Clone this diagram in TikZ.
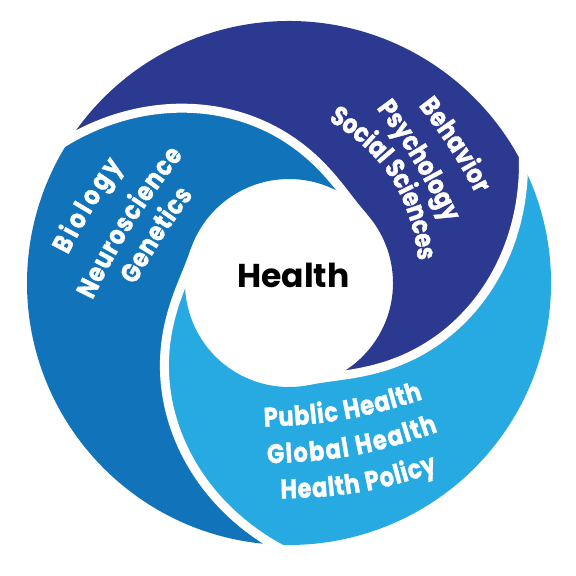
\documentclass[tikz,border=0pt]{standalone}
\usepackage{fontspec}
\setmainfont{Poppins}
\newfontfamily{\lblfam}{Poppins}[FakeStretch=0.84, FakeBold=1.2]
\usepackage{tikz}
\usetikzlibrary{decorations.text}
\definecolor{behavcolor}{RGB}{43, 57, 144}
\definecolor{biocolor}{RGB}{17, 116, 187}
\definecolor{publiccolor}{RGB}{39, 169, 225}
\newcommand{\lblfont}{\lblfam\fontsize{27}{30}\selectfont\bfseries}
\newcommand{\spiralr}[1]{99.5+162.5*(1-#1)^2*(1+0.5*#1)}

\begin{document}
\begin{tikzpicture}[
    x=1pt, y=1pt,
    gap/.style={draw=white, line width=9pt, line cap=round},
    curved/.style={decorate, decoration={text along path, text={|\lblfont|#1},
        text color=white, text align=fit to path, raise=-7pt}}
]
    % Background and frame
    \fill[white] (-289,-293) rectangle (287,283);
    \useasboundingbox (-289,-293) rectangle (287,283);

    % Swirl segments
    \foreach \a/\col in {26.5/behavcolor, 146.5/biocolor, 266.5/publiccolor}{
        \pgfmathsetmacro{\b}{\a+120}
        \pgfmathsetmacro{\ta}{\a-105}
        \pgfmathsetmacro{\tb}{\b-105}
        \fill[\col] (\b:262) arc[start angle=\b, end angle=\a, radius=262]
            -- plot[domain=0:1, samples=70, variable=\u] ({\a-105*\u}:{\spiralr{\u}})
            -- (\ta:104) arc[start angle=\ta, end angle=\tb, radius=104]
            -- plot[domain=1:0, samples=70, variable=\u] ({\b-105*\u}:{\spiralr{\u}})
            -- cycle;
    }

    % White gaps
    \foreach \a in {26.5, 146.5, 266.5}
        \draw[gap] plot[domain=-0.05:1, samples=70, variable=\u] ({\a-105*\u}:{\spiralr{\u}});

    % Labels
    \path[curved=Behavior] (135,181.5) to[bend left=5] (193,92);
    \path[curved=Psychology] (93,179) to[bend left=6] (162,64);
    \path[curved=Social Sciences] (43,168.5) to[bend left=26] (136,23.3);

    \path[curved=Biology] (-227.3,31.3) to[bend left=4] (-172.3,121.3);
    \path[curved=Neuroscience] (-202.8,-14) to[bend left=6] (-111.1,132.1);
    \path[curved=Genetics] (-160,1.3) to[bend left=4] (-101.3,92.2);

    \path[curved=Public Health] (-25.2,-136.8) to[bend right=8] (131.8,-109.6);
    \path[curved=Global Health] (-21.9,-173.4) to[bend right=9] (146.8,-142.1);
    \path[curved=Health Policy] (-8.5,-208.4) to[bend right=9] (146.5,-181.8);

    \node[anchor=base, font=\fontsize{33}{38}\selectfont\bfseries] (health) at (4.5,-4) {Health};
\end{tikzpicture}
\end{document}
